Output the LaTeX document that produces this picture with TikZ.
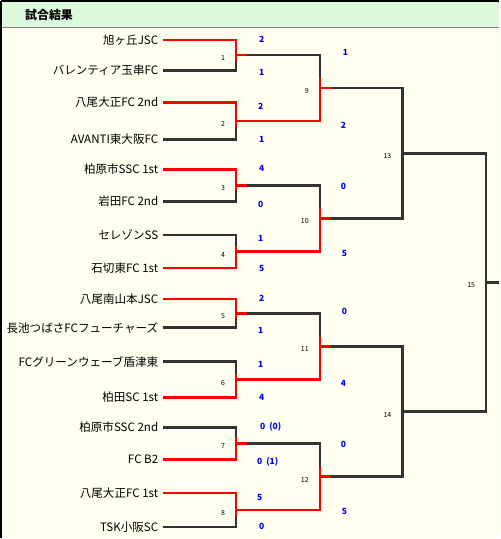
\documentclass[tikz,border=0pt]{standalone}
\usepackage{fontspec}
\setmainfont{Noto Sans CJK JP}
\usetikzlibrary{calc,positioning}
\definecolor{headfill}{RGB}{221,250,221}
\definecolor{pagefill}{RGB}{255,255,240}
\definecolor{wonred}{RGB}{255,0,0}
\definecolor{lostgray}{RGB}{51,51,51}
\definecolor{scoreblue}{RGB}{0,0,245}

\begin{document}
\begin{tikzpicture}[
  x=1pt,
  y=-1pt,
  team/.style={
    anchor=east,
    inner sep=0pt,
    font=\fontsize{11.6}{12}\selectfont
  },
  score/.style={
    anchor=west,
    inner sep=0pt,
    text=scoreblue,
    font=\fontsize{8.5}{9}\selectfont\bfseries
  },
  gameno/.style={
    anchor=east,
    inner sep=0pt,
    font=\fontsize{7}{8}\selectfont
  },
  won/.style={
    draw=wonred,
    line width=2.6pt
  },
  lost/.style={
    draw=lostgray,
    line width=2.6pt
  }
]

% frame and header
\fill[pagefill] (0,0) rectangle (500,539);
\fill[headfill] (0,0) rectangle (500,27);
\draw[gray,line width=1pt] (0,27) -- (500,27);
\draw[black,line width=2pt] (0,0) -- (500,0);
\draw[black,line width=2pt] (0,0) -- (0,539);
\useasboundingbox (0,0) rectangle (500,539);
\node[anchor=west,inner sep=0pt,font=\fontsize{12}{13}\selectfont\bfseries]
  (title) at (24,14) {試合結果};

% line starts of the teams
\coordinate (a1) at (163,39);
\coordinate (a2) at (163,69.5);
\coordinate (a3) at (163,102);
\coordinate (a4) at (163,139);
\coordinate (a5) at (163,169);
\coordinate (a6) at (163,201);
\coordinate (a7) at (163,235);
\coordinate (a8) at (163,268);
\coordinate (a9) at (163,299);
\coordinate (a10) at (163,328);
\coordinate (a11) at (163,362);
\coordinate (a12) at (163,398);
\coordinate (a13) at (163,428);
\coordinate (a14) at (163,460);
\coordinate (a15) at (163,494);
\coordinate (a16) at (163,528);

% match points
\coordinate (m1) at (236,54.2);
\coordinate (m2) at (236,120.5);
\coordinate (m3) at (236,185);
\coordinate (m4) at (236,251.5);
\coordinate (m5) at (236,313.5);
\coordinate (m6) at (236,380);
\coordinate (m7) at (236,444);
\coordinate (m8) at (236,511);
\coordinate (m9) at (320,87.4);
\coordinate (m10) at (320,218.2);
\coordinate (m11) at (320,346.8);
\coordinate (m12) at (320,477.5);
\coordinate (m13) at (403,152.8);
\coordinate (m14) at (403,412.1);
\coordinate (m15) at (487,282.5);
\coordinate (out) at (500,282.5);

% teams
\node[team] (t1) at (158,39) {旭ヶ丘JSC};
\node[team] (t2) at (158,69.5) {バレンティア玉串FC};
\node[team] (t3) at (158,102) {八尾大正FC 2nd};
\node[team] (t4) at (158,139) {AVANTI東大阪FC};
\node[team] (t5) at (158,169) {柏原市SSC 1st};
\node[team] (t6) at (158,201) {岩田FC 2nd};
\node[team] (t7) at (158,235) {セレゾンSS};
\node[team] (t8) at (158,268) {石切東FC 1st};
\node[team] (t9) at (158,299) {八尾南山本JSC};
\node[team] (t10) at (158,328) {長池つばさFCフューチャーズ};
\node[team] (t11) at (158,362) {FCグリーンウェーブ盾津東};
\node[team] (t12) at (158,398) {柏田SC 1st};
\node[team] (t13) at (158,428) {柏原市SSC 2nd};
\node[team] (t14) at (158,460) {FC B2};
\node[team] (t15) at (158,494) {八尾大正FC 1st};
\node[team] (t16) at (158,528) {TSK小阪SC};

% losing sides
\draw[lost] (a2) -- (m1 |- a2) -- (m1);
\draw[lost] (a4) -- (m2 |- a4) -- (m2);
\draw[lost] (a6) -- (m3 |- a6) -- (m3);
\draw[lost] (a7) -- (m4 |- a7) -- (m4);
\draw[lost] (a10) -- (m5 |- a10) -- (m5);
\draw[lost] (a11) -- (m6 |- a11) -- (m6);
\draw[lost] (a13) -- (m7 |- a13) -- (m7);
\draw[lost] (a16) -- (m8 |- a16) -- (m8);
\draw[lost] (m1) -- (m9 |- m1) -- (m9);
\draw[lost] (m3) -- (m10 |- m3) -- (m10);
\draw[lost] (m5) -- (m11 |- m5) -- (m11);
\draw[lost] (m7) -- (m12 |- m7) -- (m12);
\draw[lost] (m9) -- (m13 |- m9) -- (m13 |- m10) -- (m10);
\draw[lost] (m11) -- (m14 |- m11) -- (m14 |- m12) -- (m12);
\draw[lost] (m13) -- (m15 |- m13) -- (m15 |- m14) -- (m14);
\draw[lost] (m15) -- (out);

% winning sides
\draw[won] (a1) -- (m1 |- a1) -- ($(m1)+(0,6)$);
\draw[won] (a3) -- (m2 |- a3) -- ($(m2)+(0,6)$);
\draw[won] (a5) -- (m3 |- a5) -- ($(m3)+(0,6)$);
\draw[won] (a8) -- (m4 |- a8) -- ($(m4)+(0,-6)$);
\draw[won] (a9) -- (m5 |- a9) -- ($(m5)+(0,6)$);
\draw[won] (a12) -- (m6 |- a12) -- ($(m6)+(0,-6)$);
\draw[won] (a14) -- (m7 |- a14) -- ($(m7)+(0,-6)$);
\draw[won] (a15) -- (m8 |- a15) -- ($(m8)+(0,6)$);
\draw[won] (m2) -- (m9 |- m2) -- ($(m9)+(0,-10)$);
\draw[won] (m4) -- (m10 |- m4) -- ($(m10)+(0,-10)$);
\draw[won] (m6) -- (m11 |- m6) -- ($(m11)+(0,-10)$);
\draw[won] (m8) -- (m12 |- m8) -- ($(m12)+(0,-10)$);

% red stubs of winners
\draw[won] (m1) -- ++(11,0);
\draw[won] (m3) -- ++(11,0);
\draw[won] (m5) -- ++(11,0);
\draw[won] (m7) -- ++(11,0);
\draw[won] (m9) -- ++(11,0);
\draw[won] (m10) -- ++(11,0);
\draw[won] (m11) -- ++(11,0);
\draw[won] (m12) -- ++(11,0);

% match numbers
\node[gameno] (g1) at ($(m1)+(-11,3)$) {1};
\node[gameno] (g2) at ($(m2)+(-11,3)$) {2};
\node[gameno] (g3) at ($(m3)+(-11,3)$) {3};
\node[gameno] (g4) at ($(m4)+(-11,3)$) {4};
\node[gameno] (g5) at ($(m5)+(-11,3)$) {5};
\node[gameno] (g6) at ($(m6)+(-11,3)$) {6};
\node[gameno] (g7) at ($(m7)+(-11,3)$) {7};
\node[gameno] (g8) at ($(m8)+(-11,3)$) {8};
\node[gameno] (g9) at ($(m9)+(-11,3)$) {9};
\node[gameno] (g10) at ($(m10)+(-11,3)$) {10};
\node[gameno] (g11) at ($(m11)+(-11,3)$) {11};
\node[gameno] (g12) at ($(m12)+(-11,3)$) {12};
\node[gameno] (g13) at ($(m13)+(-11,3)$) {13};
\node[gameno] (g14) at ($(m14)+(-11,3)$) {14};
\node[gameno] (g15) at ($(m15)+(-11,3)$) {15};

% scores
\node[score] (s1a) at (259,38.7) {2};
\node[score] (s1b) at (259,72) {1};
\node[score] (s2a) at (258,106) {2};
\node[score] (s2b) at (259,139) {1};
\node[score] (s3a) at (259,168) {4};
\node[score] (s3b) at (258,204) {0};
\node[score] (s4a) at (258,238) {1};
\node[score] (s4b) at (259,268) {5};
\node[score] (s5a) at (259,298) {2};
\node[score] (s5b) at (258,331) {1};
\node[score] (s6a) at (258,365) {1};
\node[score] (s6b) at (259,398) {4};
\node[score] (s7a) at (260,427) {0\ \ (0)};
\node[score] (s7b) at (257,463) {0\ \ (1)};
\node[score] (s8a) at (257,498) {5};
\node[score] (s8b) at (259,527) {0};
\node[score] (s9a) at (343,52) {1};
\node[score] (s9b) at (341,125) {2};
\node[score] (s10a) at (341,186) {0};
\node[score] (s10b) at (342,253) {5};
\node[score] (s11a) at (342,312) {0};
\node[score] (s11b) at (341,384) {4};
\node[score] (s12a) at (341,445) {0};
\node[score] (s12b) at (342,512) {5};

\end{tikzpicture}
\end{document}
